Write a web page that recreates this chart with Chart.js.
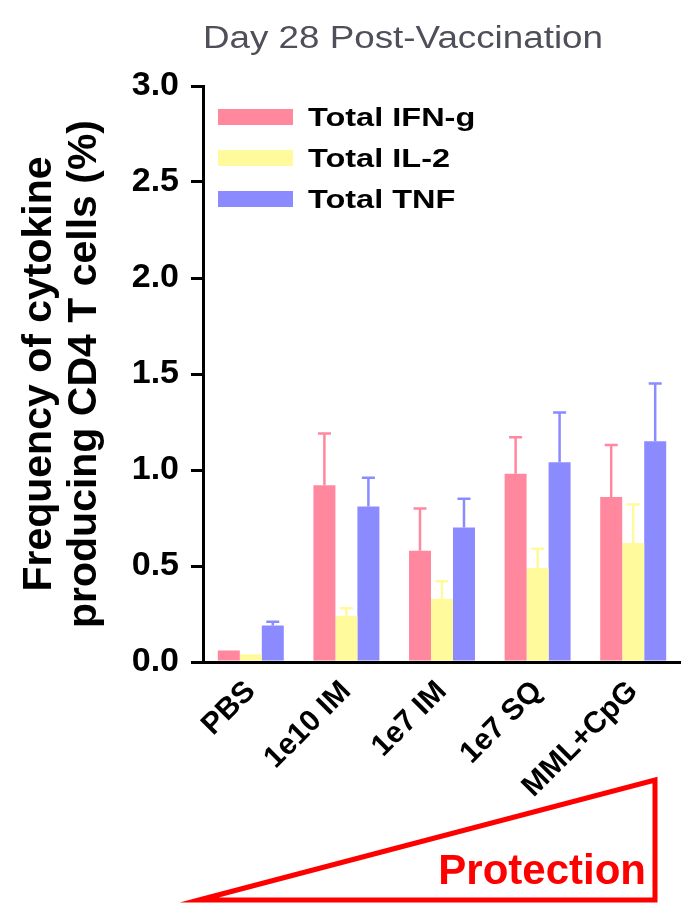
<!DOCTYPE html>
<html>
<head>
<meta charset="utf-8">
<script src="https://cdn.jsdelivr.net/npm/chart.js@4.4.1/dist/chart.umd.min.js"></script>
<style>
  html, body { margin: 0; padding: 0; background: #fff; overflow: hidden; }
  #wrap { position: relative; width: 681px; height: 903px; }
</style>
</head>
<body>
<div id="wrap"><canvas id="myChart" width="681" height="903"></canvas></div>
<script>
// values (mean + upper error bar)
const groups = ['PBS', '1e10 IM', '1e7 IM', '1e7 SQ', 'MML+CpG'];
const ifnValues = [0.06, 0.92, 0.58, 0.98, 0.86];
const ifnErrors = [0.00, 0.27, 0.22, 0.19, 0.27];
const il2Values = [0.04, 0.24, 0.33, 0.49, 0.62];
const il2Errors = [0.00, 0.04, 0.09, 0.10, 0.20];
const tnfValues = [0.19, 0.81, 0.70, 1.04, 1.15];
const tnfErrors = [0.02, 0.15, 0.15, 0.26, 0.30];
const yTicks = [0, 0.5, 1.0, 1.5, 2.0, 2.5, 3.0];

const pink = '#ff889f';
const yellow = '#fffa9c';
const blue = '#8b8bff';
const boldFont = '"Liberation Sans", Arial, sans-serif';

const ctx = document.getElementById('myChart');

// upward-only error bars, drawn on top of each bar
const errorBars = {
  id: 'errorBars',
  afterDatasetsDraw(chart) {
    const c = chart.ctx;
    const y = chart.scales.y;
    chart.data.datasets.forEach((ds, i) => {
      const meta = chart.getDatasetMeta(i);
      meta.data.forEach((bar, j) => {
        const err = ds.errors[j];
        if (!err) return;
        const top = y.getPixelForValue(ds.data[j] + err);
        c.save();
        c.strokeStyle = ds.errorColor;
        c.lineWidth = 2.5;
        c.beginPath();
        c.moveTo(bar.x, bar.y);
        c.lineTo(bar.x, top);
        c.moveTo(bar.x - 6.5, top);
        c.lineTo(bar.x + 6.5, top);
        c.stroke();
        c.restore();
      });
    });
  }
};

// title, inner legend and the "Protection" wedge
const extras = {
  id: 'extras',
  afterDraw(chart) {
    const c = chart.ctx;

    // title
    c.save();
    c.font = '31px ' + boldFont;
    c.fillStyle = '#4f4f59';
    c.textBaseline = 'alphabetic';
    const title = 'Day 28 Post-Vaccination';
    const tw = c.measureText(title).width;
    c.translate(203, 48);
    c.scale(400 / tw, 1);
    c.fillText(title, 0, 0);
    c.restore();

    // legend
    const rows = [117, 158, 199];
    chart.data.datasets.forEach((ds, i) => {
      c.save();
      c.fillStyle = ds.backgroundColor;
      c.fillRect(218, rows[i] - 8, 75, 16);
      c.font = 'bold 25px ' + boldFont;
      c.fillStyle = '#000';
      c.textBaseline = 'alphabetic';
      c.translate(308, rows[i] + 9);
      c.scale(1.3, 1);
      c.fillText(ds.label, 0, 0);
      c.restore();
    });

    // protection triangle
    c.save();
    c.strokeStyle = '#ff0000';
    c.lineWidth = 5;
    c.lineJoin = 'miter';
    c.miterLimit = 30;
    c.beginPath();
    c.moveTo(199, 900);
    c.lineTo(655, 780);
    c.lineTo(655, 900);
    c.closePath();
    c.stroke();
    c.font = 'bold 42px ' + boldFont;
    c.fillStyle = '#ff0000';
    c.textAlign = 'right';
    c.textBaseline = 'alphabetic';
    c.fillText('Protection', 646, 884);
    c.restore();
  }
};

const data = {
  labels: groups,
  datasets: [
    { label: 'Total IFN-g', data: ifnValues, errors: ifnErrors, backgroundColor: pink, errorColor: pink },
    { label: 'Total IL-2', data: il2Values, errors: il2Errors, backgroundColor: yellow, errorColor: yellow },
    { label: 'Total TNF', data: tnfValues, errors: tnfErrors, backgroundColor: blue, errorColor: blue }
  ]
};

const options = {
  responsive: false,
  animation: false,
  layout: { padding: { top: 86, left: 0, right: 0, bottom: 0 } },
  datasets: {
    bar: { categoryPercentage: 0.69, barPercentage: 1.0, borderWidth: 0 }
  },
  plugins: {
    legend: { display: false },
    title: { display: false },
    tooltip: { enabled: false }
  },
  scales: {
    x: {
      offset: true,
      grid: { display: false, drawTicks: false },
      border: { display: true, color: '#000', width: 3 },
      ticks: {
        color: '#000',
        autoSkip: false,
        minRotation: 45,
        maxRotation: 45,
        padding: 12,
        font: { family: boldFont, size: 30, weight: 'bold' }
      },
      afterFit(scale) { scale.height = 903 - 662; }
    },
    y: {
      min: 0,
      max: 3,
      afterBuildTicks(scale) { scale.ticks = yTicks.map(v => ({ value: v })); },
      grid: { drawOnChartArea: false, color: '#000', lineWidth: 3, tickLength: 12 },
      border: { display: true, color: '#000', width: 3 },
      ticks: {
        color: '#000',
        padding: 12,
        font: { family: boldFont, size: 34, weight: 'bold' },
        callback: v => v.toFixed(1)
      },
      title: {
        display: true,
        text: ['Frequency of cytokine', 'producing CD4 T cells (%)'],
        color: '#000',
        padding: { top: 17, bottom: 0 },
        font: { family: boldFont, size: 41, weight: 'bold', lineHeight: 1.1 }
      },
      afterFit(scale) { scale.width = 203; }
    }
  }
};

const myChart = new Chart(ctx, {
  type: 'bar',
  data: data,
  options: options,
  plugins: [errorBars, extras]
});
</script>
</body>
</html>
